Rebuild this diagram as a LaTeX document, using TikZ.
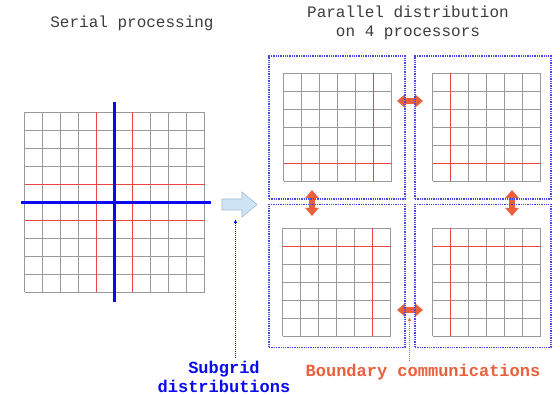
\documentclass[tikz,border=0pt]{standalone}
\usepackage{fontspec}
\newfontfamily\courier{Liberation Mono}
\usetikzlibrary{arrows.meta}
\definecolor{cellgray}{gray}{0.6}
\definecolor{ghostred}{RGB}{232,70,70}
\definecolor{cutblue}{RGB}{10,10,240}
\definecolor{boxblue}{RGB}{70,70,225}
\definecolor{commorange}{RGB}{232,96,60}
\definecolor{flowfill}{RGB}{206,228,245}
\definecolor{flowedge}{RGB}{165,185,205}
\definecolor{titlegray}{RGB}{60,60,60}

\begin{document}
\begin{tikzpicture}[x=1pt, y=-1pt,
    cellline/.style={draw=cellgray, line width=1pt},
    haloline/.style={draw=ghostred, line width=1pt},
    cutline/.style={draw=cutblue, line width=3.4pt},
    procbox/.style={draw=boxblue, densely dotted, line width=1.3pt, minimum width=136pt,
                    minimum height=143pt, inner sep=0pt},
    commarrow/.style={draw=commorange, line width=6pt,
                      {Triangle[width=13pt, length=8pt]}-{Triangle[width=13pt, length=8pt]}},
    flowarrow/.style={fill=flowfill, draw=flowedge, line width=0.6pt, line join=miter},
    title/.style={titlegray, font=\courier\fontsize{16}{19}\selectfont, align=center},
    note/.style={font=\courier\bfseries\fontsize{17}{19}\selectfont, align=center},
    distlink/.style={cutblue, densely dotted, line width=1pt, -{Latex[length=4pt, width=3.5pt]}},
    bndlink/.style={commorange, densely dotted, line width=1pt, -{Latex[length=4pt, width=3.5pt]}}]
  % A 6x6 subgrid: #1,#2 = upper left corner, #3 = column of the red boundary line, #4 = its row.
  \newcommand{\subgrid}[4]{%
    \foreach \k in {0,...,6} {
      \draw[cellline] (#1+\k*18,#2) -- (#1+\k*18,#2+108);
      \draw[cellline] (#1,#2+\k*18) -- (#1+108,#2+\k*18);}
    \draw[haloline] (#1+#3*18,#2) -- (#1+#3*18,#2+108);
    \draw[haloline] (#1,#2+#4*18) -- (#1+108,#2+#4*18);}

  \useasboundingbox (0,0) rectangle (560,395);

  % serial grid, cut in four (lines on pixel centres)
  \foreach \k in {0,...,10} {
    \draw[cellline] (24.5+\k*18,112.5) -- (24.5+\k*18,292.5);
    \draw[cellline] (24.5,112.5+\k*18) -- (204.5,112.5+\k*18);}
  \foreach \k in {4,6} {
    \draw[haloline] (24.5+\k*18,112.5) -- (24.5+\k*18,292.5);
    \draw[haloline] (24.5,112.5+\k*18) -- (204.5,112.5+\k*18);}
  \draw[cutline] (114.5,102) -- (114.5,302);
  \draw[cutline] (21,202.5) -- (211,202.5);

  % from serial to parallel
  \draw[flowarrow] (222,199) -- (242,199) -- (242,192) -- (257,204.5) -- (242,217)
                   -- (242,210) -- (222,210) -- cycle;

  % the four processors
  \subgrid{283.5}{73.5}{5}{5}
  \subgrid{432.5}{73.5}{1}{5}
  \subgrid{282.5}{228.5}{5}{1}
  \subgrid{432.5}{228.5}{1}{1}

  \draw[commarrow] (397,101) -- (423,101);
  \draw[commarrow] (397,310) -- (423,310);
  \draw[commarrow] (312,190) -- (312,216);
  \draw[commarrow] (512,190) -- (512,216);

  \node[procbox] (tlbox) at (337,127.5) {};
  \node[procbox] (trbox) at (483,127.5) {};
  \node[procbox] (blbox) at (337,276) {};
  \node[procbox] (brbox) at (483,276) {};

  \node[title] (serial) at (132,23) {Serial processing};
  \node[title] (parallel) at (408,23) {Parallel distribution\\on 4 processors};

  \node[note, cutblue] (dist) at (224,377) {Subgrid\\distributions};
  \node[note, commorange] (bnd) at (423,372) {Boundary communications};

  \coordinate (distup) at (235.5,219);
  \coordinate (bndup) at (409.5,317);
  \draw[distlink] (dist.north -| distup) -- (distup);
  \draw[bndlink] (bnd.north -| bndup) -- (bndup);
\end{tikzpicture}
\end{document}
